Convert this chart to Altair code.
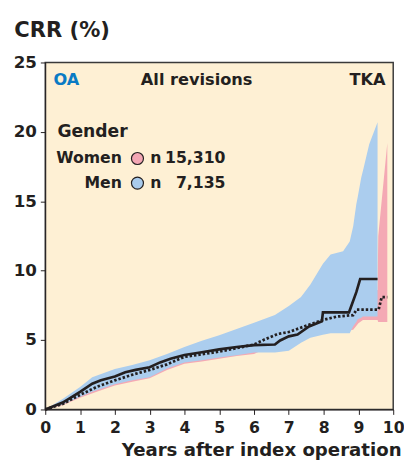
import altair as alt
import pandas as pd

# Men (solid line) cumulative revision rate
men_x = [0, 0.2, 0.5, 0.7, 1.0, 1.35, 1.6, 2.0, 2.3, 2.6, 3.0, 3.3, 3.6, 4.0, 4.5, 5.0, 5.5, 6.0, 6.6, 6.75, 7.0, 7.25, 7.58, 7.95, 7.98, 8.73, 8.94, 9.05, 9.55]
men_y = [0, 0.2, 0.5, 0.8, 1.27, 1.86, 2.1, 2.38, 2.68, 2.85, 3.04, 3.39, 3.65, 3.93, 4.12, 4.33, 4.5, 4.64, 4.68, 4.97, 5.27, 5.4, 5.98, 6.35, 7.0, 7.0, 8.45, 9.4, 9.4]

# Women (dotted line)
women_x = [0, 0.5, 1.0, 1.5, 2.0, 2.5, 3.0, 3.5, 4.0, 4.5, 5.0, 5.5, 6.0, 6.3, 6.68, 7.0, 7.3, 7.62, 7.98, 8.37, 8.85, 8.95, 9.58, 9.67, 9.83]
women_y = [0, 0.4, 1.05, 1.65, 2.1, 2.5, 2.85, 3.25, 3.79, 3.98, 4.17, 4.42, 4.68, 5.04, 5.44, 5.58, 5.85, 6.14, 6.45, 6.69, 6.8, 7.2, 7.2, 8.1, 8.1]

# Men confidence band
men_ci_x = [0, 0.5, 1.0, 1.35, 2.0, 2.5, 3.0, 3.5, 4.0, 4.5, 5.0, 5.5, 6.0, 6.6, 7.0, 7.35, 7.62, 7.98, 8.2, 8.56, 8.75, 8.85, 8.94, 8.98, 9.08, 9.13, 9.31, 9.55]
men_lo = [0, 0.35, 0.92, 1.27, 1.81, 2.1, 2.33, 2.95, 3.39, 3.55, 3.74, 3.9, 4.1, 4.1, 4.24, 4.8, 5.16, 5.39, 5.5, 5.5, 5.5, 6.0, 6.3, 6.5, 6.6, 6.7, 6.7, 6.7]
men_hi = [0, 0.75, 1.62, 2.33, 2.92, 3.2, 3.55, 4.0, 4.5, 4.95, 5.35, 5.8, 6.25, 6.8, 7.45, 8.1, 9.0, 10.5, 11.16, 11.4, 12.1, 13.2, 14.8, 15.3, 16.7, 17.2, 19.1, 20.7]

# Women confidence band
women_ci_x = [0, 0.5, 1.0, 1.5, 2.0, 2.5, 3.0, 3.5, 4.0, 4.5, 5.0, 5.5, 6.0, 6.5, 7.0, 7.5, 8.0, 8.5, 8.85, 9.0, 9.13, 9.55, 9.57, 9.83]
women_lo = [0, 0.3, 0.85, 1.3, 1.72, 2.0, 2.25, 2.85, 3.3, 3.45, 3.65, 3.85, 4.0, 4.6, 5.0, 5.4, 5.8, 5.6, 5.74, 6.21, 6.45, 6.45, 6.3, 6.3]
women_hi = [0, 0.55, 1.35, 2.0, 2.5, 2.95, 3.3, 3.7, 4.2, 4.5, 4.75, 5.0, 5.4, 5.9, 6.3, 6.7, 7.2, 7.6, 7.9, 8.1, 8.3, 8.6, 12.5, 19.2]

x_ticks = [0, 1, 2, 3, 4, 5, 6, 7, 8, 9, 10]
y_ticks = [0, 5, 10, 15, 20, 25]

legend_labels = ["Women", "Men"]
legend_counts = ["15,310", "7,135"]
legend_colors = ["#F4A7B4", "#A9CBEC"]

FONT = "DejaVu Sans"
INK = "#231F20"

xs = alt.Scale(domain=[0, 10], nice=False)
ys = alt.Scale(domain=[0, 25], nice=False)

xax = alt.Axis(values=x_ticks, title="Years after index operation", titleAlign="right",
               titleAnchor="end", titleX=363, titleY=47, titleBaseline="alphabetic",
               titleFontSize=18.5, labelPadding=5, labelFontSize=16, labelOverlap=False,
               labelFlush=False, tickCount=11)
yax = alt.Axis(values=y_ticks, title="CRR (%)", titleAngle=0, titleAlign="left",
               titleX=-32, titleY=-26, titleBaseline="alphabetic",
               titleFontSize=21.5, labelPadding=4, labelOverlap=False, labelFlush=False,
               tickCount=6)

def X(field):
    return alt.X(field, scale=xs, axis=xax)

def Y(field):
    return alt.Y(field, scale=ys, axis=yax)

men_ci = pd.DataFrame({"x": men_ci_x, "lo": men_lo, "hi": men_hi})
women_ci = pd.DataFrame({"x": women_ci_x, "lo": women_lo, "hi": women_hi})
men = pd.DataFrame({"x": men_x, "y": men_y})
women = pd.DataFrame({"x": women_x, "y": women_y})

pink_area = alt.Chart(women_ci).mark_area(color="#F4A9B4", opacity=1).encode(
    x=X("x:Q"), y=Y("lo:Q"), y2="hi:Q")
blue_area = alt.Chart(men_ci).mark_area(color="#ABCDEE", opacity=1).encode(
    x=X("x:Q"), y=Y("lo:Q"), y2="hi:Q")
men_line = alt.Chart(men).mark_line(color=INK, strokeWidth=2.7).encode(
    x=X("x:Q"), y=Y("y:Q"))
women_line = alt.Chart(women).mark_line(color=INK, strokeWidth=2.8, strokeDash=[2.5, 2]).encode(
    x=X("x:Q"), y=Y("y:Q"))

header = pd.DataFrame({"x": [0.235, 4.35, 9.78], "y": [23.75] * 3,
                       "t": ["OA", "All revisions", "TKA"],
                       "a": ["left", "center", "right"], "c": ["#0A7BC4", INK, INK]})
head_layers = []
for i in range(3):
    head_layers.append(alt.Chart(header.iloc[[i]]).mark_text(
        font=FONT, fontWeight="bold", fontSize=16.5, align=header["a"][i], baseline="middle",
        color=header["c"][i]).encode(x=X("x:Q"), y=Y("y:Q"), text="t:N"))

leg_y = [18.08, 16.31]
gender = alt.Chart(pd.DataFrame({"x": [0.35], "y": [19.95], "t": ["Gender"]})).mark_text(
    font=FONT, fontWeight="bold", fontSize=17.5, align="left", baseline="middle", color=INK).encode(
    x=X("x:Q"), y=Y("y:Q"), text="t:N")
leg = pd.DataFrame({"lab": legend_labels, "cnt": legend_counts, "col": legend_colors, "y": leg_y,
                    "x": [2.2, 2.2], "xc": [2.65, 2.65], "xn": [3.02, 3.02], "xr": [5.18, 5.18],
                    "n": ["n", "n"]})
leg_lab = alt.Chart(leg).mark_text(font=FONT, fontWeight="bold", fontSize=16, align="right",
                                   baseline="middle", color=INK).encode(
    x=X("x:Q"), y=Y("y:Q"), text="lab:N")
leg_pt = alt.Chart(leg).mark_point(filled=True, shape="circle", size=150, stroke=INK,
                                   strokeWidth=1.2, opacity=1).encode(
    x=X("xc:Q"), y=Y("y:Q"), fill=alt.Fill("col:N", scale=None))
leg_n = alt.Chart(leg).mark_text(font=FONT, fontWeight="bold", fontSize=16, align="left",
                                 baseline="middle", color=INK).encode(
    x=X("xn:Q"), y=Y("y:Q"), text="n:N")
leg_c = alt.Chart(leg).mark_text(font=FONT, fontWeight="bold", fontSize=16, align="right",
                                 baseline="middle", color=INK).encode(
    x=X("xr:Q"), y=Y("y:Q"), text="cnt:N")

chart = alt.layer(pink_area, blue_area, men_line, women_line, *head_layers,
                  gender, leg_lab, leg_pt, leg_n, leg_c).properties(
    width=355, height=354,
    autosize=alt.AutoSizeParams(type="none"),
    padding={"left": 38, "top": 51, "right": 11, "bottom": 49},
    background="white",
).configure_view(fill="#FEF0D4", stroke="#3A3A3A", strokeWidth=1.5
).configure_axis(
    labelFont=FONT, labelFontWeight="bold", labelFontSize=17, labelColor=INK,
    titleFont=FONT, titleFontWeight="bold", titleColor=INK,
    tickSize=5, tickColor=INK, domainColor=INK, grid=False, labelOverlap=False,
)

chart.save("out.html", embed_options={"renderer": "svg", "actions": False})
